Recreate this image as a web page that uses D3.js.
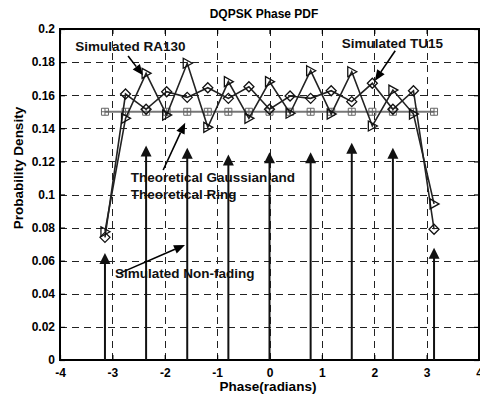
<!DOCTYPE html>
<html>
<head>
<meta charset="utf-8">
<script src="https://cdn.jsdelivr.net/npm/d3@7"></script>
<style>
  body { margin: 0; background: #fff; }
  svg text { font-family: "Liberation Sans", Arial, sans-serif; font-weight: bold; }
</style>
</head>
<body>
<div id="chart"></div>
<script>
// phase grid points (multiples of pi/8 and pi/4)
const phases8 = d3.range(-8, 9).map(k => k * Math.PI / 8);
const phases4 = d3.range(-4, 5).map(k => k * Math.PI / 4);

// values
const ra130 = [0.0775, 0.146, 0.1732, 0.148, 0.1793, 0.1406, 0.1682, 0.146, 0.1682,
               0.1491, 0.1748, 0.1486, 0.1742, 0.1414, 0.1631, 0.1486, 0.0943];
const tu15 = [0.0741, 0.1607, 0.1515, 0.1621, 0.1587, 0.1645, 0.1581, 0.1651, 0.1515,
              0.1595, 0.1581, 0.1627, 0.1561, 0.1672, 0.1515, 0.1627, 0.079];
const theoretical = [0.15, 0.15, 0.15, 0.15, 0.15, 0.15, 0.15, 0.15, 0.15,
                     0.15, 0.15, 0.15, 0.15, 0.15, 0.15, 0.15, 0.15];
const nonFading = [0.0611, 0.126, 0.1246, 0.1205, 0.1219, 0.1219, 0.1276, 0.1246, 0.0642];

const xTicks = [-4, -3, -2, -1, 0, 1, 2, 3, 4];
const xTickLabels = ["-4", "-3", "-2", "-1", "0", "1", "2", "3", "4"];
const yTicks = [0, 0.02, 0.04, 0.06, 0.08, 0.1, 0.12, 0.14, 0.16, 0.18, 0.2];
const yTickLabels = ["0", "0.02", "0.04", "0.06", "0.08", "0.1", "0.12", "0.14", "0.16", "0.18", "0.2"];

// annotation labels and arrows (data coordinates)
const labels = [
  {text: "Simulated RA130", x: -3.71, y: 0.187},
  {text: "Simulated TU15", x: 1.38, y: 0.1883},
  {text: "Theoretical Gaussian and", x: -2.65, y: 0.1077},
  {text: "Theoretical Ring", x: -2.65, y: 0.0973},
  {text: "Simulated Non-fading", x: -2.95, y: 0.0494}
];
const arrows = [
  {x1: -2.70, y1: 0.1837, x2: -2.415, y2: 0.172},
  {x1: 2.40, y1: 0.1869, x2: 2.01, y2: 0.1686},
  {x1: -2.03, y1: 0.1148, x2: -1.61, y2: 0.1434},
  {x1: -2.855, y1: 0.0525, x2: -1.613, y2: 0.0695}
];

const W = 480, H = 396;
const m = {left: 60, right: 479, top: 29, bottom: 360};

const svg = d3.select("#chart").append("svg")
  .attr("width", W).attr("height", H);

const x = d3.scaleLinear().domain([-4, 4]).range([m.left, m.right]);
const y = d3.scaleLinear().domain([0, 0.2]).range([m.bottom, m.top]);

// grid
svg.append("g").selectAll("line")
  .data(xTicks.slice(1, -1))
  .join("line")
    .attr("x1", d => Math.round(x(d)) + 0.5).attr("x2", d => Math.round(x(d)) + 0.5)
    .attr("y1", m.top).attr("y2", m.bottom)
    .attr("stroke", "#222").attr("stroke-dasharray", "7,5");
svg.append("g").selectAll("line")
  .data(yTicks.slice(1, -1))
  .join("line")
    .attr("y1", d => Math.round(y(d)) + 0.5).attr("y2", d => Math.round(y(d)) + 0.5)
    .attr("x1", m.left).attr("x2", m.right)
    .attr("stroke", "#222").attr("stroke-dasharray", "7,5");

// axes with inward ticks
const fmtX = (d, i) => xTickLabels[i];
const fmtY = (d, i) => yTickLabels[i];
const gx = svg.append("g").attr("transform", `translate(0,${m.bottom})`)
  .call(d3.axisBottom(x).tickValues(xTicks).tickFormat(fmtX).tickSizeInner(-5).tickSizeOuter(0).tickPadding(8));
const gy = svg.append("g").attr("transform", `translate(${m.left},0)`)
  .call(d3.axisLeft(y).tickValues(yTicks).tickFormat(fmtY).tickSizeInner(-5).tickSizeOuter(0).tickPadding(5));
svg.append("g").attr("transform", `translate(0,${m.top})`)
  .call(d3.axisTop(x).tickValues(xTicks).tickFormat("").tickSizeInner(-5).tickSizeOuter(0));
svg.append("g").attr("transform", `translate(${m.right},0)`)
  .call(d3.axisRight(y).tickValues(yTicks).tickFormat("").tickSizeInner(-5).tickSizeOuter(0));
svg.selectAll(".domain").remove();
svg.selectAll(".tick line").attr("stroke", "#000").attr("stroke-width", 1.2);
[gx, gy].forEach(g => g.selectAll("text").attr("font-size", 12).attr("fill", "#000")
  .style("font-family", '"Liberation Sans", Arial, sans-serif').style("font-weight", "bold"));

// frame
svg.append("rect")
  .attr("x", m.left).attr("y", m.top)
  .attr("width", m.right - m.left).attr("height", m.bottom - m.top)
  .attr("fill", "none").attr("stroke", "#000").attr("stroke-width", 2);

// theoretical line with square-plus markers
const line = d3.line().x(d => x(d[0])).y(d => y(d[1]));
const theo = phases8.map((p, i) => [p, theoretical[i]]);
svg.append("path").datum(theo)
  .attr("d", line).attr("fill", "none").attr("stroke", "#777").attr("stroke-width", 2);
const sq = 3.5;
svg.append("g").selectAll("path")
  .data(theo)
  .join("path")
    .attr("transform", d => `translate(${x(d[0])},${y(d[1])})`)
    .attr("d", `M${-sq},${-sq}H${sq}V${sq}H${-sq}Z M0,${-sq}V${sq} M${-sq},0H${sq}`)
    .attr("fill", "none").attr("stroke", "#666").attr("stroke-width", 1);

// non-fading stems
const stems = phases4.map((p, i) => [p, nonFading[i]]);
svg.append("g").selectAll("line")
  .data(stems)
  .join("line")
    .attr("x1", d => x(d[0])).attr("x2", d => x(d[0]))
    .attr("y1", y(0)).attr("y2", d => y(d[1]))
    .attr("stroke", "#111").attr("stroke-width", 2);
svg.append("g").selectAll("path")
  .data(stems)
  .join("path")
    .attr("transform", d => `translate(${x(d[0])},${y(d[1])})`)
    .attr("d", "M0,-6L5.5,5L-5.5,5Z")
    .attr("fill", "#111");

// simulated RA130 (right triangles) and TU15 (diamonds)
const ra = phases8.map((p, i) => [p, ra130[i]]);
const tu = phases8.map((p, i) => [p, tu15[i]]);
[ra, tu].forEach(s => {
  svg.append("path").datum(s)
    .attr("d", line).attr("fill", "none").attr("stroke", "#222").attr("stroke-width", 1.6);
});
svg.append("g").selectAll("path")
  .data(ra)
  .join("path")
    .attr("transform", d => `translate(${x(d[0])},${y(d[1])})`)
    .attr("d", "M-4,-5L5,0L-4,5Z")
    .attr("fill", "none").attr("stroke", "#111").attr("stroke-width", 1.3);
svg.append("g").selectAll("path")
  .data(tu)
  .join("path")
    .attr("transform", d => `translate(${x(d[0])},${y(d[1])})`)
    .attr("d", "M0,-5L5,0L0,5L-5,0Z")
    .attr("fill", "none").attr("stroke", "#111").attr("stroke-width", 1.3);

// annotations
svg.append("g").selectAll("text")
  .data(labels)
  .join("text")
    .attr("x", d => x(d.x)).attr("y", d => y(d.y))
    .attr("font-size", 13.5).attr("fill", "#111")
    .text(d => d.text);
arrows.forEach(a => {
  const x1 = x(a.x1), y1 = y(a.y1), x2 = x(a.x2), y2 = y(a.y2);
  const ang = Math.atan2(y2 - y1, x2 - x1);
  const len = 11, hw = 4.5;
  const bx = x2 - len * Math.cos(ang), by = y2 - len * Math.sin(ang);
  svg.append("line")
    .attr("x1", x1).attr("y1", y1).attr("x2", bx).attr("y2", by)
    .attr("stroke", "#000").attr("stroke-width", 1.6);
  svg.append("path")
    .attr("d", `M${x2},${y2}L${bx - hw * Math.sin(ang)},${by + hw * Math.cos(ang)}L${bx + hw * Math.sin(ang)},${by - hw * Math.cos(ang)}Z`)
    .attr("fill", "#000");
});

// titles
svg.append("text")
  .attr("x", 264).attr("y", 17.5)
  .attr("text-anchor", "middle").attr("font-size", 12)
  .text("DQPSK Phase PDF");
svg.append("text")
  .attr("x", 268).attr("y", 391)
  .attr("text-anchor", "middle").attr("font-size", 13.5)
  .text("Phase(radians)");
svg.append("text")
  .attr("transform", "translate(23,168) rotate(-90)")
  .attr("text-anchor", "middle").attr("font-size", 13.5)
  .text("Probability Density");
</script>
</body>
</html>
